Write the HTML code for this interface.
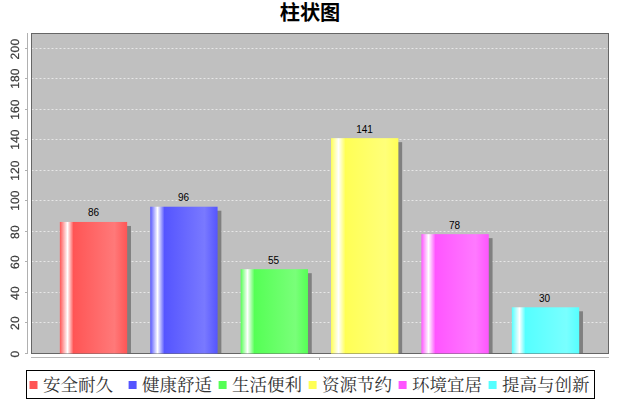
<!DOCTYPE html>
<html lang="zh"><head><meta charset="utf-8"><title>chart</title>
<style>html,body{margin:0;padding:0;background:#fff;}svg{display:block;}text{font-family:"Liberation Sans",sans-serif;}</style></head><body>
<svg width="620" height="400" viewBox="0 0 620 400">
<rect x="0" y="0" width="620" height="400" fill="#ffffff"/>
<defs>
<linearGradient id="g0" x1="0" y1="0" x2="1" y2="0"><stop offset="0" stop-color="#ff5555"/><stop offset="0.1136" stop-color="#ffffff"/><stop offset="0.2028" stop-color="#ff5555"/><stop offset="0.8118" stop-color="#ff7979"/><stop offset="1" stop-color="#ff5555"/></linearGradient>
<linearGradient id="g1" x1="0" y1="0" x2="1" y2="0"><stop offset="0" stop-color="#5555ff"/><stop offset="0.1077" stop-color="#ffffff"/><stop offset="0.2117" stop-color="#5555ff"/><stop offset="0.8059" stop-color="#7979ff"/><stop offset="1" stop-color="#5555ff"/></linearGradient>
<linearGradient id="g2" x1="0" y1="0" x2="1" y2="0"><stop offset="0" stop-color="#55ff55"/><stop offset="0.1018" stop-color="#ffffff"/><stop offset="0.2057" stop-color="#55ff55"/><stop offset="0.8148" stop-color="#79ff79"/><stop offset="1" stop-color="#55ff55"/></linearGradient>
<linearGradient id="g3" x1="0" y1="0" x2="1" y2="0"><stop offset="0" stop-color="#ffff55"/><stop offset="0.1107" stop-color="#ffffff"/><stop offset="0.2146" stop-color="#ffff55"/><stop offset="0.8088" stop-color="#ffff79"/><stop offset="1" stop-color="#ffff55"/></linearGradient>
<linearGradient id="g4" x1="0" y1="0" x2="1" y2="0"><stop offset="0" stop-color="#ff55ff"/><stop offset="0.1047" stop-color="#ffffff"/><stop offset="0.2087" stop-color="#ff55ff"/><stop offset="0.8029" stop-color="#ff79ff"/><stop offset="1" stop-color="#ff55ff"/></linearGradient>
<linearGradient id="g5" x1="0" y1="0" x2="1" y2="0"><stop offset="0" stop-color="#55ffff"/><stop offset="0.1136" stop-color="#ffffff"/><stop offset="0.2028" stop-color="#55ffff"/><stop offset="0.8118" stop-color="#79ffff"/><stop offset="1" stop-color="#55ffff"/></linearGradient>
</defs>
<text x="310" y="20.3" font-size="20.2" font-weight="bold" text-anchor="middle" fill="#000" style="font-family:'Liberation Sans','Noto Sans CJK SC',sans-serif;">柱状图</text>
<rect x="31" y="33" width="577" height="320" fill="#c0c0c0"/>
<line x1="31.5" y1="322.5" x2="608" y2="322.5" stroke="#ffffff" stroke-opacity="0.62" stroke-width="1" stroke-dasharray="2 2"/>
<line x1="31.5" y1="292.5" x2="608" y2="292.5" stroke="#ffffff" stroke-opacity="0.62" stroke-width="1" stroke-dasharray="2 2"/>
<line x1="31.5" y1="261.5" x2="608" y2="261.5" stroke="#ffffff" stroke-opacity="0.62" stroke-width="1" stroke-dasharray="2 2"/>
<line x1="31.5" y1="231.5" x2="608" y2="231.5" stroke="#ffffff" stroke-opacity="0.62" stroke-width="1" stroke-dasharray="2 2"/>
<line x1="31.5" y1="200.5" x2="608" y2="200.5" stroke="#ffffff" stroke-opacity="0.62" stroke-width="1" stroke-dasharray="2 2"/>
<line x1="31.5" y1="170.5" x2="608" y2="170.5" stroke="#ffffff" stroke-opacity="0.62" stroke-width="1" stroke-dasharray="2 2"/>
<line x1="31.5" y1="139.5" x2="608" y2="139.5" stroke="#ffffff" stroke-opacity="0.62" stroke-width="1" stroke-dasharray="2 2"/>
<line x1="31.5" y1="109.5" x2="608" y2="109.5" stroke="#ffffff" stroke-opacity="0.62" stroke-width="1" stroke-dasharray="2 2"/>
<line x1="31.5" y1="78.5" x2="608" y2="78.5" stroke="#ffffff" stroke-opacity="0.62" stroke-width="1" stroke-dasharray="2 2"/>
<line x1="31.5" y1="48.5" x2="608" y2="48.5" stroke="#ffffff" stroke-opacity="0.62" stroke-width="1" stroke-dasharray="2 2"/>
<rect x="31.5" y="33.5" width="577" height="320" fill="none" stroke="#666666" stroke-width="1"/>
<rect x="63.65" y="225.95" width="67.32" height="127.05" fill="#808080"/>
<rect x="154.05" y="210.71" width="67.32" height="142.29" fill="#808080"/>
<rect x="244.45" y="273.19" width="67.32" height="79.81" fill="#808080"/>
<rect x="334.85" y="142.14" width="67.32" height="210.86" fill="#808080"/>
<rect x="425.25" y="238.14" width="67.32" height="114.86" fill="#808080"/>
<rect x="515.65" y="311.29" width="67.32" height="41.71" fill="#808080"/>
<rect x="59.85" y="221.95" width="67.32" height="131.55" fill="url(#g0)"/>
<rect x="150.25" y="206.71" width="67.32" height="146.79" fill="url(#g1)"/>
<rect x="240.65" y="269.19" width="67.32" height="84.31" fill="url(#g2)"/>
<rect x="331.05" y="138.14" width="67.32" height="215.36" fill="url(#g3)"/>
<rect x="421.45" y="234.14" width="67.32" height="119.36" fill="url(#g4)"/>
<rect x="511.85" y="307.29" width="67.32" height="46.21" fill="url(#g5)"/>
<text x="93.5" y="216" font-size="10" text-anchor="middle" fill="#000">86</text>
<text x="183.5" y="201" font-size="10" text-anchor="middle" fill="#000">96</text>
<text x="273.5" y="264" font-size="10" text-anchor="middle" fill="#000">55</text>
<text x="364.6" y="133" font-size="10" text-anchor="middle" fill="#000">141</text>
<text x="454.5" y="229" font-size="10" text-anchor="middle" fill="#000">78</text>
<text x="544.5" y="302" font-size="10" text-anchor="middle" fill="#000">30</text>
<g opacity="0.999" text-rendering="geometricPrecision">
<line x1="27.5" y1="33" x2="27.5" y2="354" stroke="#b0b0b0" stroke-width="1"/>
<line x1="25" y1="353.5" x2="27.5" y2="353.5" stroke="#b0b0b0" stroke-width="1"/>
<text transform="translate(19,353.95) rotate(-90)" font-size="12" letter-spacing="0.33" text-anchor="middle" fill="#3a3a3a" stroke="#3a3a3a" stroke-width="0.2">0</text>
<line x1="25" y1="322.5" x2="27.5" y2="322.5" stroke="#b0b0b0" stroke-width="1"/>
<text transform="translate(19,322.95) rotate(-90)" font-size="12" letter-spacing="0.33" text-anchor="middle" fill="#3a3a3a" stroke="#3a3a3a" stroke-width="0.2">20</text>
<line x1="25" y1="292.5" x2="27.5" y2="292.5" stroke="#b0b0b0" stroke-width="1"/>
<text transform="translate(19,292.95) rotate(-90)" font-size="12" letter-spacing="0.33" text-anchor="middle" fill="#3a3a3a" stroke="#3a3a3a" stroke-width="0.2">40</text>
<line x1="25" y1="261.5" x2="27.5" y2="261.5" stroke="#b0b0b0" stroke-width="1"/>
<text transform="translate(19,261.95) rotate(-90)" font-size="12" letter-spacing="0.33" text-anchor="middle" fill="#3a3a3a" stroke="#3a3a3a" stroke-width="0.2">60</text>
<line x1="25" y1="231.5" x2="27.5" y2="231.5" stroke="#b0b0b0" stroke-width="1"/>
<text transform="translate(19,231.95) rotate(-90)" font-size="12" letter-spacing="0.33" text-anchor="middle" fill="#3a3a3a" stroke="#3a3a3a" stroke-width="0.2">80</text>
<line x1="25" y1="200.5" x2="27.5" y2="200.5" stroke="#b0b0b0" stroke-width="1"/>
<text transform="translate(19,200.55) rotate(-90)" font-size="12" letter-spacing="0.05" text-anchor="middle" fill="#3a3a3a" stroke="#3a3a3a" stroke-width="0.2">100</text>
<line x1="25" y1="170.5" x2="27.5" y2="170.5" stroke="#b0b0b0" stroke-width="1"/>
<text transform="translate(19,170.55) rotate(-90)" font-size="12" letter-spacing="0.05" text-anchor="middle" fill="#3a3a3a" stroke="#3a3a3a" stroke-width="0.2">120</text>
<line x1="25" y1="139.5" x2="27.5" y2="139.5" stroke="#b0b0b0" stroke-width="1"/>
<text transform="translate(19,139.55) rotate(-90)" font-size="12" letter-spacing="0.05" text-anchor="middle" fill="#3a3a3a" stroke="#3a3a3a" stroke-width="0.2">140</text>
<line x1="25" y1="109.5" x2="27.5" y2="109.5" stroke="#b0b0b0" stroke-width="1"/>
<text transform="translate(19,109.55) rotate(-90)" font-size="12" letter-spacing="0.05" text-anchor="middle" fill="#3a3a3a" stroke="#3a3a3a" stroke-width="0.2">160</text>
<line x1="25" y1="78.5" x2="27.5" y2="78.5" stroke="#b0b0b0" stroke-width="1"/>
<text transform="translate(19,78.55) rotate(-90)" font-size="12" letter-spacing="0.05" text-anchor="middle" fill="#3a3a3a" stroke="#3a3a3a" stroke-width="0.2">180</text>
<line x1="25" y1="48.5" x2="27.5" y2="48.5" stroke="#b0b0b0" stroke-width="1"/>
<text transform="translate(19,48.95) rotate(-90)" font-size="12" letter-spacing="0.33" text-anchor="middle" fill="#3a3a3a" stroke="#3a3a3a" stroke-width="0.2">200</text>
<line x1="31" y1="357.5" x2="609" y2="357.5" stroke="#b8b8b8" stroke-width="1"/>
<line x1="319.5" y1="357.5" x2="319.5" y2="360" stroke="#b0b0b0" stroke-width="1"/>
</g>
<rect x="26.5" y="370.5" width="568" height="28" fill="#fff" stroke="#000" stroke-width="1"/>
<rect x="29.5" y="381" width="8" height="8" fill="#ff5555"/>
<text x="43" y="391" font-size="17.5" fill="#333" style="font-family:'Liberation Serif','Noto Serif CJK SC',serif;">安全耐久</text>
<rect x="128.6" y="381" width="8" height="8" fill="#5555ff"/>
<text x="142" y="391" font-size="17.5" fill="#333" style="font-family:'Liberation Serif','Noto Serif CJK SC',serif;">健康舒适</text>
<rect x="218.6" y="381" width="8" height="8" fill="#55ff55"/>
<text x="232" y="391" font-size="17.5" fill="#333" style="font-family:'Liberation Serif','Noto Serif CJK SC',serif;">生活便利</text>
<rect x="308.6" y="381" width="8" height="8" fill="#ffff55"/>
<text x="322" y="391" font-size="17.5" fill="#333" style="font-family:'Liberation Serif','Noto Serif CJK SC',serif;">资源节约</text>
<rect x="398.6" y="381" width="8" height="8" fill="#ff55ff"/>
<text x="412" y="391" font-size="17.5" fill="#333" style="font-family:'Liberation Serif','Noto Serif CJK SC',serif;">环境宜居</text>
<rect x="488.6" y="381" width="8" height="8" fill="#55ffff"/>
<text x="502" y="391" font-size="17.5" fill="#333" style="font-family:'Liberation Serif','Noto Serif CJK SC',serif;">提高与创新</text>
</svg></body></html>
